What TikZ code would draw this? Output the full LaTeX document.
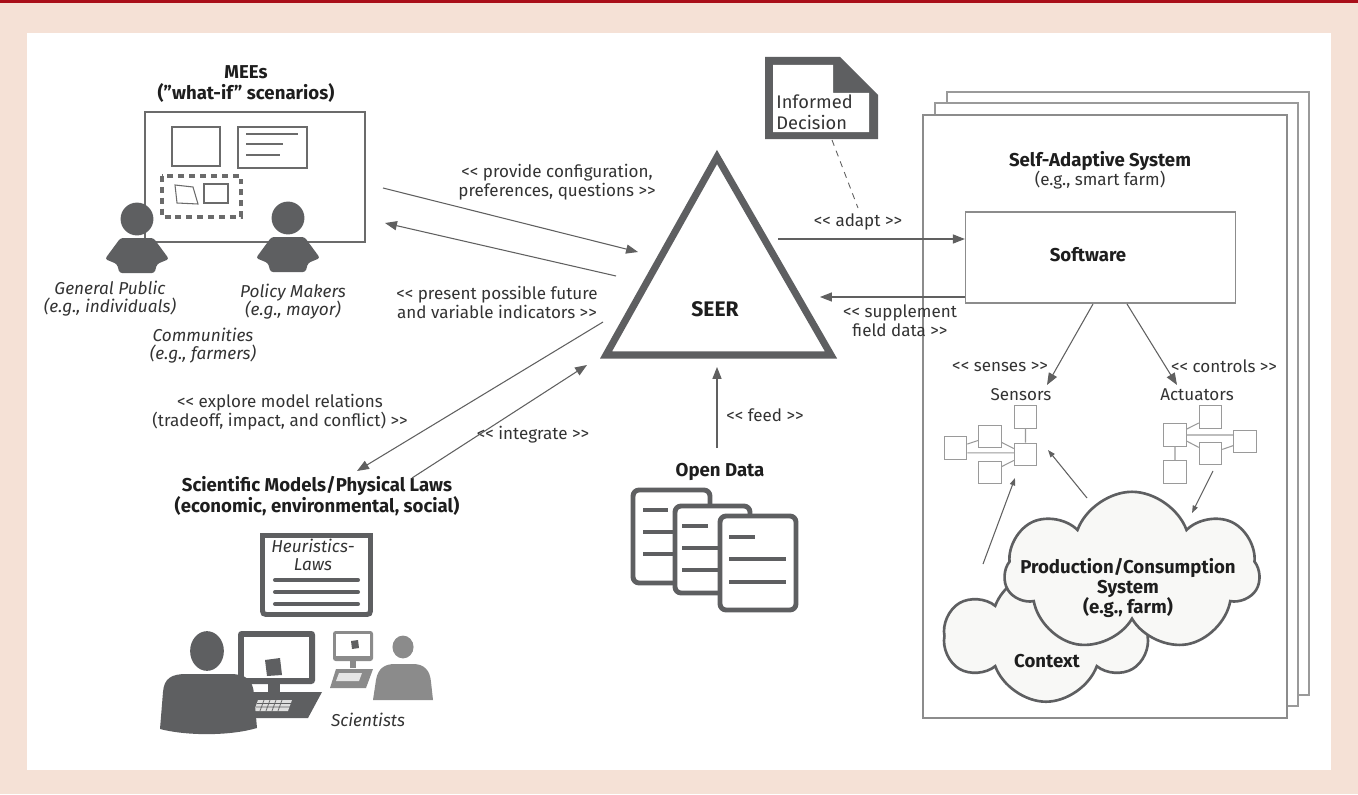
\documentclass[tikz,border=0pt]{standalone}
\usepackage{fontspec}
\setmainfont{Fira Sans}
\usetikzlibrary{arrows.meta,shapes.symbols}

\definecolor{pagebg}{HTML}{F5E1D6}
\definecolor{barred}{HTML}{A90E19}
\definecolor{ink}{HTML}{1E1E1E}
\definecolor{txt}{HTML}{333333}
\definecolor{wire}{HTML}{606060}
\definecolor{icon}{HTML}{5E5F61}
\definecolor{iconlt}{HTML}{8B8B8B}
\definecolor{frame}{HTML}{6B6B6B}
\definecolor{sheet}{HTML}{8C8C8C}
\definecolor{net}{HTML}{9A9A9A}
\definecolor{puff}{HTML}{F8F8F6}

\newcommand\ltt{<\kern0pt<}
\newcommand\gtt{>\kern0pt>}

\tikzset{
  person/.pic={
    \fill (0,0) circle[radius=9.35pt];
    \fill[rounded corners=1.5pt] (-16.5,19) -- (16.5,19) -- (32,40) -- (20,45) -- (17.5,54)
      -- (-17.5,54) -- (-20,45) -- (-32,40) -- cycle;
  }
}

\begin{document}
\begin{tikzpicture}[
    x=0.02cm, y=-0.02cm,
    >={Triangle[length=6.8pt,width=5.2pt]},
    every node/.style={font=\fontsize{9.7}{10.8}\selectfont, text=txt, align=center, inner sep=0pt},
    hd/.style={font=\fontsize{10.6}{11.6}\selectfont\bfseries, text=ink},
    it/.style={font=\fontsize{9.8}{10.4}\selectfont\itshape},
    wire/.style={draw=wire, line width=0.6pt},
    nudge/.style={wire, -{Triangle[length=4.2pt,width=3pt]}},
    board/.style={draw=frame, line width=1.7pt, fill=white},
    doc/.style={draw=icon, line width=2.8pt, fill=white},
    sq/.style={draw=net, fill=white, line width=0.6pt, minimum size=12.8pt},
    netline/.style={draw=net, line width=0.6pt},
    puffy/.style={cloud, cloud puffs=7, cloud puff arc=140, cloud ignores aspect,
      draw=icon, line width=1.5pt, fill=puff},
  ]
\useasboundingbox (0,0) rectangle (1358,794);
\fill[pagebg] (0,0) rectangle (1358,794);
\fill[barred] (0,0) rectangle (1358,3.5);
\fill[white] (27,33) rectangle (1331,770);

% MEEs board
\draw[board] (145,112) rectangle (365,242);
\draw[board] (172,127) rectangle (220,166);
\draw[board] (238,127) rectangle (307,168);
\draw[frame, line width=1.7pt] (246,134) -- (298,134) (246,144) -- (283,144) (246,155) -- (280,155);
\draw[frame, line width=1.9pt, dash pattern=on 3.4pt off 2.8pt] (162,176) rectangle (241,217);
\draw[frame, line width=0.6pt] (175,185) -- (193,187) -- (198,204) -- (177,203) -- cycle;
\draw[frame, line width=0.6pt] (204,184) rectangle (228,203);
\pic[fill=icon] at (137,219) {person};
\pic[fill=icon] at (288,218) {person};

\node[hd] (mees) at (246,84) {MEEs\\(”what-if” scenarios)};
\node[it] (pub) at (110,299) {General Public\\(e.g., individuals)};
\node[it] (pol) at (293,302) {Policy Makers\\(e.g., mayor)};
\node[it] (com) at (203,346) {Communities\\(e.g., farmers)};

% SEER
\draw[icon, line width=4pt, fill=white] (606,355) -- (717,157) -- (831,355) -- cycle;
\node[hd, font=\fontsize{12}{13}\selectfont\bfseries] (seer) at (715,309) {SEER};

\node (prov) at (557,182) {\ltt{} provide configuration,\\preferences, questions \gtt};
\node (pres) at (497,302) {\ltt{} present possible future\\and variable indicators \gtt};
\node (expl) at (280,412) {\ltt{} explore model relations\\(tradeoff, impact, and conflict) \gtt};
\node (intg) at (533,435) {\ltt{} integrate \gtt};

% scientific models
\node[hd] (sci) at (317,496) {Scientific Models/Physical Laws\\(economic, environmental, social)};
\draw[doc] (262.5,535.5) -- (262.5,607) .. controls (262.5,614.5) .. (270,614.5) -- (363,614.5)
  .. controls (370.5,614.5) .. (370.5,607) -- (370.5,535.5) -- cycle;
\draw[icon, line width=2.3pt, line cap=round] (275,580) -- (358,580) (275,592) -- (358,592) (275,604) -- (358,604);
\node[it] (heur) at (313,555) {Heuristics-\\Laws};

% scientists
\fill[icon, rounded corners=2pt] (238,631) rectangle (315,684);
\fill[white] (244,637) rectangle (309,678);
\fill[icon] (265,660) -- (280,658) -- (282,675) -- (267,676) -- cycle;
\fill[icon] (268,684) rectangle (280,693);
\fill[icon] (252,692) -- (322,692) -- (308,718) -- (244,718) -- cycle;
\fill[gray!25] (258,700) -- (292,700) -- (288,711) -- (254,711) -- cycle;
\draw[icon, line width=0.4pt] (257,703.5) -- (291,703.5) (256,707) -- (290,707)
  (264,700) -- (260,711) (270,700) -- (266,711) (276,700) -- (272,711) (282,700) -- (278,711);
\fill[icon] (207,651) ellipse[x radius=9.6pt, y radius=11.3pt];
\fill[icon] (160,729) -- (163,692) .. controls (164,678) and (172,674) .. (186,674) -- (230,674)
  .. controls (246,674) and (253,680) .. (254,694) -- (257,728) .. controls (230,736) and (187,736) .. cycle;
\fill[iconlt, rounded corners=1.5pt] (333,631) rectangle (373,661);
\fill[white] (336,634) rectangle (370,656);
\fill[icon] (351,641) -- (358,640) -- (359,648) -- (352,649) -- cycle;
\fill[iconlt] (350,661) rectangle (356,668);
\fill[iconlt] (336,669) -- (373,669) -- (366,688) -- (330,688) -- cycle;
\fill[gray!20] (339,673) -- (362,673) -- (359,681) -- (336,681) -- cycle;
\fill[iconlt] (403,647) ellipse[x radius=6pt, y radius=6.5pt];
\fill[iconlt] (373,700) -- (376,680) .. controls (378,668) and (385,664) .. (395,664) -- (413,664)
  .. controls (424,664) and (430,670) .. (431,682) -- (433,700) -- cycle;
\node[it] (sci2) at (368,720) {Scientists};

% open data
\node[hd] (od) at (720,472) {Open Data};
\draw[doc, rounded corners=3.5pt] (633,490) rectangle (710,583);
\draw[icon, line width=2.8pt] (643,510) -- (668,510) (643,532) -- (674,532) (643,554) -- (674,554);
\draw[doc, rounded corners=3.5pt] (675,506) rectangle (750,593);
\draw[icon, line width=2.8pt] (682,526) -- (708,526) (682,548) -- (719,548) (682,570) -- (719,570);
\draw[doc, rounded corners=3.5pt] (720,516) rectangle (796,610);
\draw[icon, line width=2.8pt] (729,537) -- (755,537) (729,559) -- (786,559) (729,582) -- (786,582);
\node (feed) at (765,415) {\ltt{} feed \gtt};

% informed decision
\fill[icon] (765,57) -- (840,57) -- (878,95) -- (878,139) -- (765,139) -- cycle;
\fill[white] (773,65) -- (833,65) -- (833,93) -- (869,93) -- (869,132) -- (773,132) -- cycle;
\node[anchor=west, align=left, font=\fontsize{10.4}{12}\selectfont] (dec) at (776,112) {Informed\\Decision};

% self-adaptive system
\draw[draw=net, line width=0.6pt, fill=white] (947,92) rectangle (1309,695);
\draw[draw=net, line width=0.6pt, fill=white] (935,103) rectangle (1298,706);
\draw[draw=sheet, line width=1.1pt, fill=white] (923,115) rectangle (1287,718);
\node (sas) at (1100,170) {{\fontsize{10.6}{11.6}\selectfont\bfseries\color{ink}Self-Adaptive System}\\(e.g., smart farm)};
\node[draw=sheet, line width=0.85pt, minimum width=153.6pt, minimum height=51.6pt] (sw) at (1100.5,257.5) {};
\node[hd] (swl) at (1088,255) {Software};
\node (adapt) at (858,222) {\ltt{} adapt \gtt};
\node (supp) at (900,321) {\ltt{} supplement\\field data \gtt};
\node (sns) at (1000,367) {\ltt{} senses \gtt};
\node (ctl) at (1224,366) {\ltt{} controls \gtt};
\node (sen) at (1021,395) {Sensors};
\node (act) at (1197,395) {Actuators};

\node[sq] (s1) at (955.5,448) {};
\node[sq] (s2) at (990,436.5) {};
\node[sq] (s3) at (1025.5,417) {};
\node[sq] (s4) at (1025.5,454.5) {};
\node[sq] (s5) at (990,472.5) {};
\draw[netline] (s1) -- (s2) ([yshift=-2.8pt]s1.east) -- +(47,0) (s2) -- (s4) (s5) -- (s4) (s3) -- (s4);
\node[sq] (a1) at (1175,435) {};
\node[sq] (a2) at (1210.5,417) {};
\node[sq] (a3) at (1245,441.5) {};
\node[sq] (a4) at (1210.5,453.5) {};
\node[sq] (a5) at (1175,472) {};
\draw[netline] (a1) -- (a2) (a1.east) -- +(46,0) (a1) -- (a4) (a4) -- (a3) (a1) -- (a5);

\node[puffy, cloud puffs=6, minimum width=114pt, minimum height=74.8pt] (ctx) at (1046,636) {};
\node[puffy, minimum width=145pt, minimum height=91.3pt] (pc) at (1132,572) {};
\node[hd] (pcl) at (1128,588) {Production/Consumption\\System\\(e.g., farm)};
\node[hd] (ctxl) at (1047,661) {Context};

% connectors
\coordinate (cfgA) at (383,188);  \coordinate (cfgB) at (638,252);
\coordinate (preA) at (616,276);  \coordinate (preB) at (385,223);
\coordinate (expA) at (603,322);  \coordinate (expB) at (357,471);
\coordinate (intA) at (412,478);  \coordinate (intB) at (587,365);
\coordinate (fedA) at (717,448);  \coordinate (fedB) at (717,367);
\coordinate (adpA) at (778,239);  \coordinate (supB) at (820,297);
\coordinate (decA) at (832,140);  \coordinate (decB) at (858,208);
\coordinate (senA) at (1093,304); \coordinate (senB) at (1047,385);
\coordinate (ctlA) at (1127,304); \coordinate (ctlB) at (1177,385);
\coordinate (pcA) at (1087,498);  \coordinate (pcB) at (1048,450);
\coordinate (cxA) at (983,564);   \coordinate (cxB) at (1015,478);
\coordinate (acA) at (1213,471);  \coordinate (acB) at (1192,513);

\draw[wire, ->] (cfgA) -- (cfgB);
\draw[wire, ->] (preA) -- (preB);
\draw[wire, ->] (expA) -- (expB);
\draw[wire, ->] (intA) -- (intB);
\draw[wire, ->] (fedA) -- (fedB);
\draw[wire, ->] (adpA) -- (sw.west |- adpA);
\draw[wire, ->] (sw.west |- supB) -- (supB);
\draw[wire, ->] (senA) -- (senB);
\draw[wire, ->] (ctlA) -- (ctlB);
\draw[wire, line width=0.5pt, dash pattern=on 3.5pt off 3pt] (decA) -- (decB);
\draw[nudge] (pcA) -- (pcB);
\draw[nudge] (cxA) -- (cxB);
\draw[nudge] (acA) -- (acB);
\end{tikzpicture}
\end{document}
